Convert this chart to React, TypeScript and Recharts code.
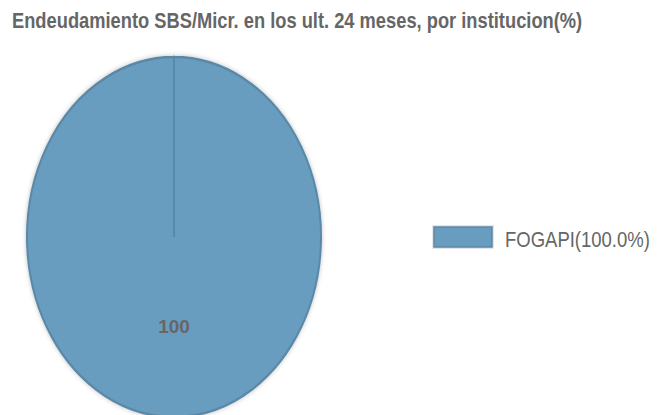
import { PieChart, Pie, Cell, Legend, Sector } from "recharts";

const names = ["FOGAPI"];
const values = [100];
const colors = ["#689dc0"];

const data = names.map((name, i) => ({ name, value: values[i] }));
const total = values.reduce((a, b) => a + b, 0);

// vertical stretch of the pie, the original is an ellipse
const K = 1.224;

const renderShape = (props: any) => {
  const { cx, cy } = props;
  return (
    <g transform={`translate(${cx},${cy}) scale(1,${K}) translate(${-cx},${-cy})`}>
      <Sector
        {...props}
        stroke="#5a89a8"
        strokeWidth={2}
        style={{ filter: "drop-shadow(0 0 2px rgba(0,0,0,0.25))" }}
      />
    </g>
  );
};

const RAD = Math.PI / 180;
const renderLabel = (props: any) => {
  const { cx, cy, midAngle, outerRadius, value } = props;
  const r = outerRadius / 2;
  const x = cx + r * Math.cos(-midAngle * RAD);
  const y = cy + K * r * Math.sin(-midAngle * RAD);
  return (
    <text
      x={x}
      y={y}
      textAnchor="middle"
      dominantBaseline="central"
      fill="#666"
      fontFamily="Liberation Sans, Arial, sans-serif"
      fontWeight="bold"
      fontSize={19}
    >
      {value}
    </text>
  );
};

// the original uses a condensed face, so the text is drawn smaller and stretched up
const LegendContent = () => (
  <svg width={230} height={34}>
    {data.map((d, i) => (
      <g key={d.name} transform={`translate(0,${i * 30})`}>
        <rect x={0} y={0} width={62} height={24} fill="#e6e6e6" />
        <rect x={2} y={2} width={58} height={20} fill={colors[i]} stroke="#5a89a8" strokeWidth={1.5} />
        <text
          transform="translate(73,22) scale(1,1.24)"
          fontFamily="Liberation Sans, Arial, sans-serif"
          fontSize={18.5}
          fill="#666"
        >
          {`${d.name}(${((d.value / total) * 100).toFixed(1)}%)`}
        </text>
      </g>
    ))}
  </svg>
);

export default function App() {
  return (
    <div style={{ position: "absolute", left: 0, top: 0, width: 665, height: 415, background: "#fff" }}>
      <svg width={665} height={45} style={{ position: "absolute", left: 0, top: 0 }}>
        <text
          transform="translate(12,28) scale(1,1.2)"
          fontFamily="Liberation Sans, Arial, sans-serif"
          fontWeight="bold"
          fontSize={18.3}
          fill="#666"
        >
          Endeudamiento SBS/Micr. en los ult. 24 meses, por institucion(%)
        </text>
      </svg>
      <PieChart width={665} height={415} style={{ position: "absolute", left: 0, top: 0 }}>
        <Pie
          data={data}
          dataKey="value"
          nameKey="name"
          cx={169}
          cy={232}
          outerRadius={147}
          startAngle={90}
          endAngle={-270}
          shape={renderShape}
          label={renderLabel}
          labelLine={false}
          isAnimationActive={false}
        >
          {data.map((d, i) => (
            <Cell key={d.name} fill={colors[i]} />
          ))}
        </Pie>
        <Legend
          content={<LegendContent />}
          layout="vertical"
          wrapperStyle={{ position: "absolute", left: 432, top: 225, width: 230 }}
        />
      </PieChart>
    </div>
  );
}
